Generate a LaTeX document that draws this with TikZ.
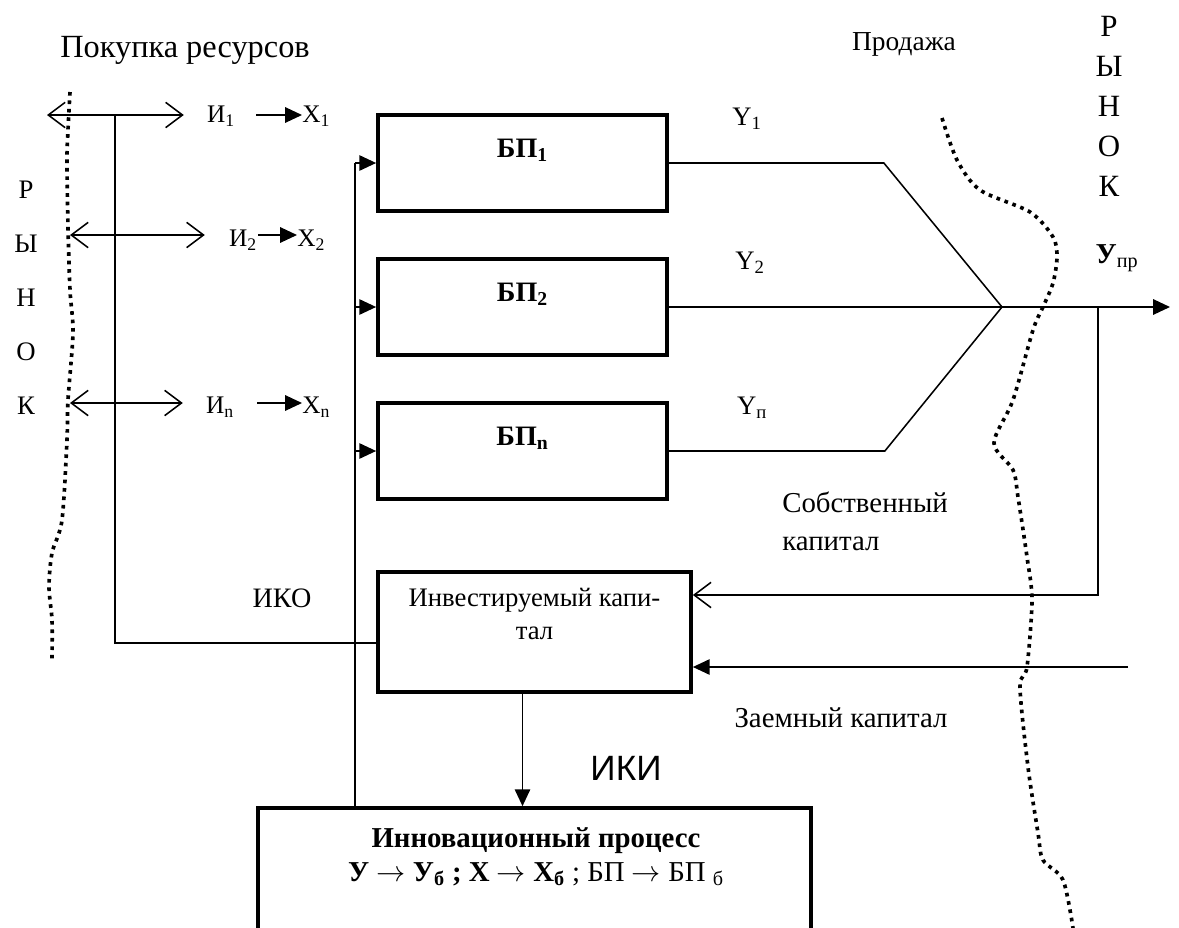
\documentclass[tikz,border=0pt]{standalone}
\usepackage{fontspec}
\setmainfont{Liberation Serif}
\newfontfamily\ikifont{Liberation Sans}
\usetikzlibrary{arrows.meta,calc,positioning}

\tikzset{
  bpbox/.style={draw, line width=2.6pt, minimum width=7.225cm, minimum height=2.4cm, inner sep=0pt},
  flow/.style={line width=1.1pt},
  openarr/.style={flow, {Straight Barb[length=12pt,width=18pt]}-{Straight Barb[length=12pt,width=18pt]}},
  openend/.style={flow, -{Straight Barb[length=12pt,width=18pt]}},
  fillarr/.style={flow, -{Triangle[length=12pt,width=11pt]}},
  market/.style={line width=2.6pt, dash pattern=on 2.6pt off 3.4pt},
  lbl/.style={inner sep=0pt, font=\fontsize{20.5}{24}\selectfont},
  small/.style={inner sep=0pt, font=\fontsize{18}{21}\selectfont},
}

\begin{document}
\begin{tikzpicture}[x=0.025cm,y=-0.025cm]
  \useasboundingbox (0,0) rectangle (1179,928);
  \clip (0,0) rectangle (1179,928);

  % market borders
  \draw[market] plot[smooth] coordinates {(70,92) (68,130) (67,160) (68,227) (70,290)
    (73,333) (68,400) (67,440) (62,520) (52,553) (49,587) (52,620) (52,660)};
  \draw[market] plot[smooth] coordinates {(942,118) (957,160) (980,190) (1030,212)
    (1053,237) (1057,257) (1053,283) (1043,307) (1033,330) (1013,400) (994,443)
    (1013,470) (1018,497) (1027,557) (1032,600) (1027,667) (1020,687) (1028,767)
    (1038,833) (1043,860) (1063,880) (1073,928)};
  \foreach \c [count=\i] in {Р,Ы,Н,О,К}
    \node[small, font=\fontsize{19}{22}\selectfont] (lm\i) at (26,136+54*\i) {\c};
  \foreach \c [count=\i] in {Р,Ы,Н,О,К}
    \node[lbl, font=\fontsize{22}{26}\selectfont] (rm\i) at (1109,-14+40*\i) {\c};

  % business processes
  \node[bpbox] (bp1) at (522.5,163) {};
  \node[bpbox] (bp2) at (522.5,307) {};
  \node[bpbox] (bpn) at (522.5,451) {};
  \node[lbl, font=\fontsize{20}{24}\selectfont\bfseries] (bp1txt) at (522.5,150) {БП\textsubscript{1}};
  \node[lbl, font=\fontsize{20}{24}\selectfont\bfseries] (bp2txt) at (522.5,294) {БП\textsubscript{2}};
  \node[lbl, font=\fontsize{20}{24}\selectfont\bfseries] (bpntxt) at (522.5,438) {БП\textsubscript{n}};

  \node[bpbox, minimum width=7.825cm, minimum height=3cm] (inv) at (534.5,632) {};
  \node[small, align=center, font=\fontsize{19}{24}\selectfont] (invtxt) at (534.5,614) {Инвестируемый капи-\\тал};
  \node[bpbox, minimum width=13.825cm, minimum height=3.8cm] (innov) at (534.5,884) {};
  \node[lbl, align=center, font=\fontsize{20.5}{24}\selectfont] (innovtxt) at (536,857)
    {\textbf{Инновационный процесс}\\
     \textbf{У $\rightarrow$ У\textsubscript{б} ; X $\rightarrow$ X\textsubscript{б}} ; БП $\rightarrow$ БП \textsubscript{б}};

  % resources
  \coordinate (m1) at (47,115);
  \coordinate (m2) at (70,235);
  \coordinate (mn) at (70,403);
  \node[small] (i1) at (221,116) {И\textsubscript{1}};
  \node[small] (i2) at (243,240) {И\textsubscript{2}};
  \node[small] (in) at (220,407) {И\textsubscript{n}};
  \node[small, anchor=west] (x1) at (302,116) {X\textsubscript{1}};
  \node[small, anchor=west] (x2) at (297,240) {X\textsubscript{2}};
  \node[small, anchor=west] (xn) at (302,407) {X\textsubscript{n}};
  \draw[openarr] (m1) -- ($(i1.west |- m1)+(-23,0)$);
  \draw[openarr] (m2) -- ($(i2.west |- m2)+(-24,0)$);
  \draw[openarr] (mn) -- ($(in.west |- mn)+(-23,0)$);
  \draw[fillarr] (i1.east |- m1) ++(21,0) -- (x1.west |- m1);
  \draw[fillarr] (i2.east |- m2) ++(1,0) -- (x2.west |- m2);
  \draw[fillarr] (in.east |- mn) ++(23,0) -- (xn.west |- mn);

  % investment flows
  \coordinate (iko) at (115,115);
  \draw[flow] (iko) |- ($(inv.west)+(0,11)$);
  \coordinate (fd) at (355,163);
  \draw[flow] (fd |- innov.north) -- (fd);
  \foreach \b in {bp1,bp2,bpn}
    \draw[fillarr] (fd |- \b.west) -- (\b.west);
  \draw[fillarr] ($(inv.south)+(-12,0)$) -- ($(inv.south |- innov.north)+(-12,0)$);

  % sales
  \coordinate (join) at (1002,307);
  \coordinate (sale) at (1170,307);
  \draw[flow] (bp1.east) -- ++(215,0) -- (join);
  \draw[flow] (bpn.east) -- ++(216,0) -- (join);
  \draw[fillarr] (bp2.east) -- (join) -- (sale);
  \coordinate (fb) at (1098,307);
  \draw[openend] (fb) |- ($(inv.east)+(0,-37)$);
  \coordinate (loan) at (1128,667);
  \draw[fillarr] (loan) -- (inv.east |- loan);

  % labels
  \node[lbl, font=\fontsize{23}{27}\selectfont] (buy) at (185,50) {Покупка ресурсов};
  \node[lbl, font=\fontsize{19.5}{23}\selectfont] (sell) at (904,44) {Продажа};
  \node[small, font=\fontsize{19}{22}\selectfont] (y1) at (747,119) {Y\textsubscript{1}};
  \node[small, font=\fontsize{19}{22}\selectfont] (y2) at (750,263) {Y\textsubscript{2}};
  \node[small, font=\fontsize{19}{22}\selectfont] (yn) at (752,408) {Y\textsubscript{п}};
  \node[lbl] (ypr) at (1117,258) {\textbf{У}\textsubscript{пр}};
  \node[lbl, align=left, anchor=west, font=\fontsize{20.5}{27}\selectfont] (own) at (782,521) {Собственный\\капитал};
  \node[lbl] (loantxt) at (841,718) {Заемный капитал};
  \node[lbl, font=\fontsize{20}{24}\selectfont] (ikotxt) at (282,598) {ИКО};
  \node[lbl, font=\fontsize{25}{29}\ikifont] (ikitxt) at (626,768) {ИКИ};
\end{tikzpicture}
\end{document}
